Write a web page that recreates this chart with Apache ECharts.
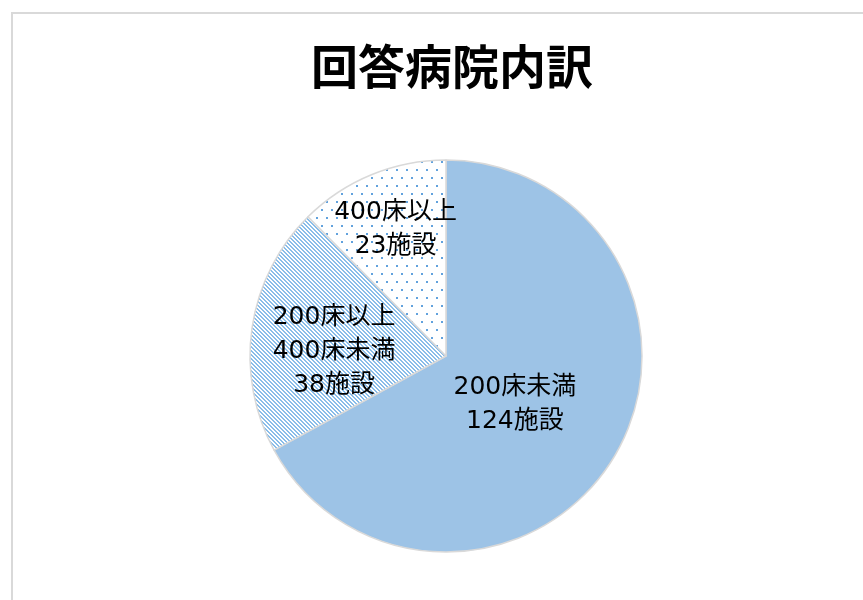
<!DOCTYPE html>
<html>
<head>
<meta charset="utf-8">
<script src="https://cdn.jsdelivr.net/npm/echarts@6/dist/echarts.min.js"></script>
<style>
  html, body { margin: 0; padding: 0; background: #fff; }
  #chart { width: 863px; height: 600px; }
</style>
</head>
<body>
<div id="chart"></div>
<script>
const categories = ['200床未満', '200床以上\n400床未満', '400床以上']
const counts = [124, 38, 23]

const makeStripes = () => {
  const c = document.createElement('canvas')
  c.width = 4
  c.height = 4
  const ctx = c.getContext('2d')
  ctx.fillStyle = '#ffffff'
  ctx.fillRect(0, 0, 4, 4)
  ctx.fillStyle = '#8abde9'
  for (let i = 0; i < 4; i++) {
    ctx.fillRect(i, i, 1, 1)
    ctx.fillRect((i + 1) % 4, i, 1, 1)
  }
  return c
}

const makeDots = () => {
  const c = document.createElement('canvas')
  c.width = 10
  c.height = 16
  const ctx = c.getContext('2d')
  ctx.fillStyle = '#ffffff'
  ctx.fillRect(0, 0, 10, 16)
  ctx.fillStyle = '#62a2dd'
  ctx.fillRect(1, 1, 2, 2)
  ctx.fillRect(6, 9, 2, 2)
  return c
}

const fills = [
  '#9dc3e6',
  { image: makeStripes(), repeat: 'repeat' },
  { image: makeDots(), repeat: 'repeat' }
]

// label nudges to match the original placement
const labelShift = [[-18, -3], [-12, 10], [-12, -33]]

const chart = echarts.init(document.getElementById('chart'))

chart.setOption({
  backgroundColor: '#ffffff',
  animation: false,
  title: {
    text: '回答病院内訳',
    left: 447,
    textAlign: 'center',
    top: 38,
    textStyle: {
      fontFamily: 'Noto Sans CJK JP',
      fontSize: 47,
      fontWeight: 'bold',
      color: '#000'
    }
  },
  graphic: [
    {
      type: 'rect',
      shape: { x: 12, y: 13, width: 900, height: 700 },
      style: { fill: 'none', stroke: '#d9d9d9', lineWidth: 2 },
      silent: true
    }
  ],
  series: [
    {
      type: 'pie',
      center: [446, 356],
      radius: 196,
      startAngle: 90,
      clockwise: true,
      itemStyle: {
        borderColor: '#d9d9d9',
        borderWidth: 1.5
      },
      label: {
        show: true,
        position: 'inside',
        fontFamily: 'DejaVu Sans, Noto Sans CJK JP',
        fontSize: 25,
        lineHeight: 34,
        color: '#000',
        formatter: (p) => `${p.name}\n${p.value}施設`
      },
      labelLine: { show: false },
      labelLayout: (params) => ({
        dx: labelShift[params.dataIndex][0],
        dy: labelShift[params.dataIndex][1]
      }),
      data: categories.map((name, i) => ({
        name,
        value: counts[i],
        itemStyle: { color: fills[i] }
      }))
    }
  ]
})
</script>
</body>
</html>
